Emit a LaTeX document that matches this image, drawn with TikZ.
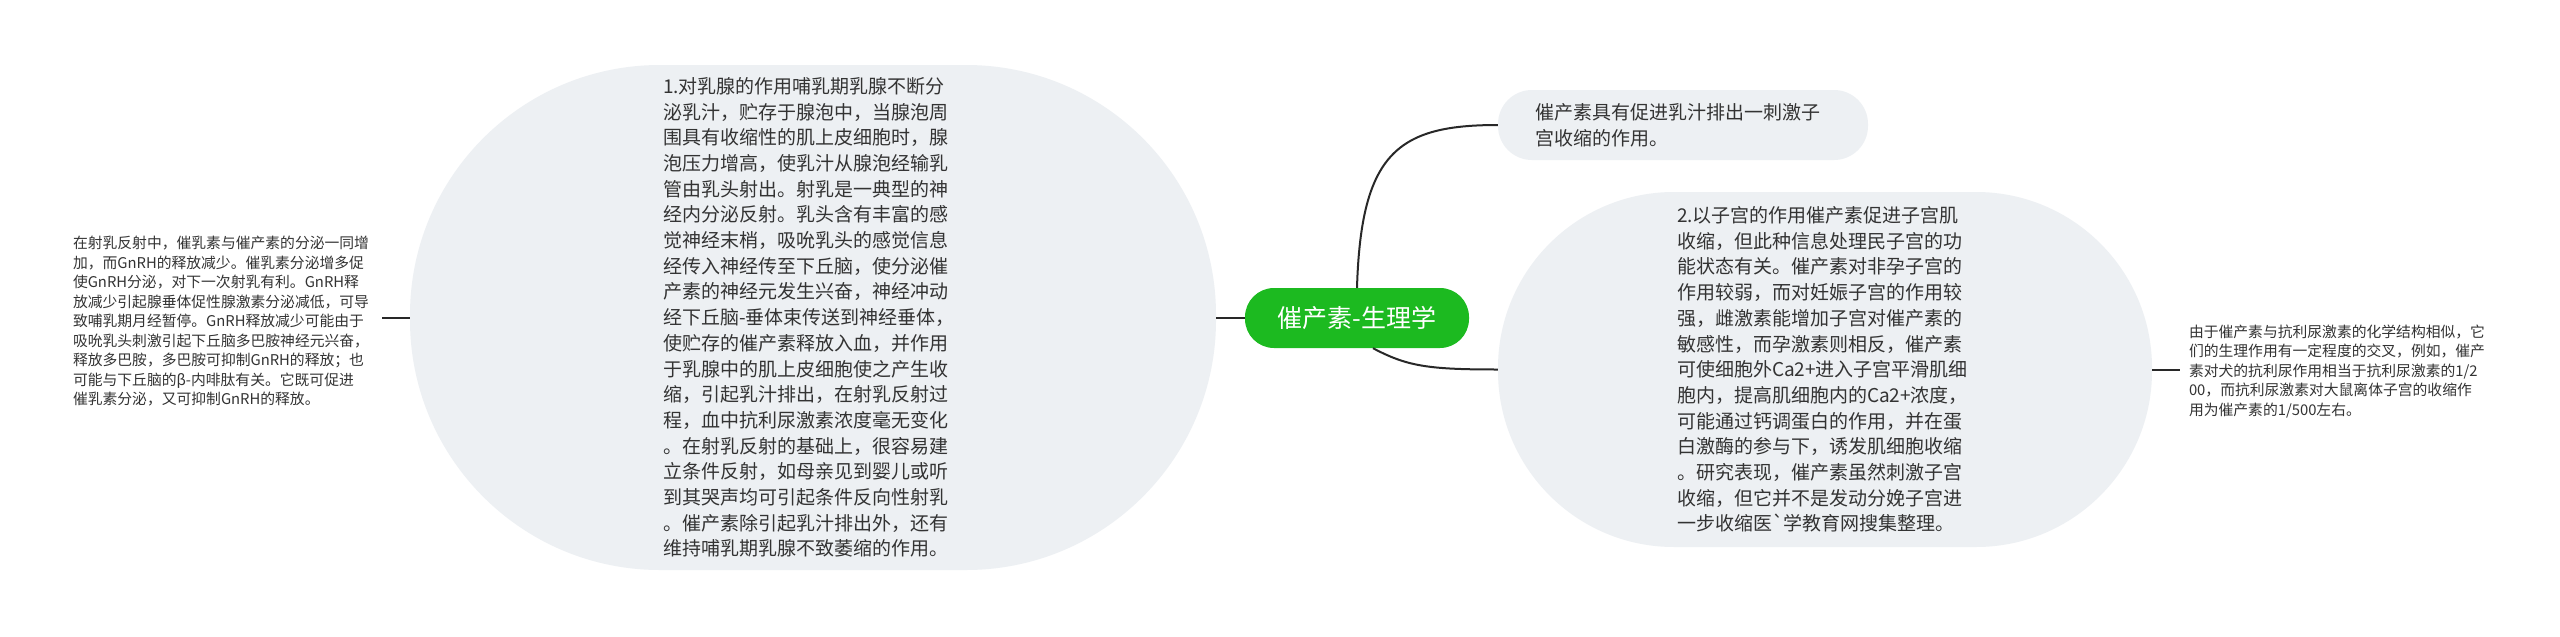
\documentclass[tikz,border=0pt]{standalone}
\usepackage{fontspec}
\setmainfont{Noto Sans CJK SC}[Ligatures=TeXOff]
\definecolor{nodefill}{RGB}{237,240,243}
\definecolor{txt}{RGB}{51,51,51}
\definecolor{rootgreen}{RGB}{28,186,32}
\definecolor{linec}{RGB}{40,40,40}
\begin{document}
\begin{tikzpicture}[x=1pt,y=-1pt,
  bubble/.style={draw=none,fill=nodefill,text=txt,align=left,inner sep=0pt},
  bigtext/.style={font=\fontsize{19pt}{25.7pt}\selectfont},
  smalltext/.style={text=txt,align=left,inner ysep=0pt,inner xsep=9pt,font=\fontsize{14.8pt}{19.5pt}\selectfont},
  conn/.style={draw=linec,line width=2pt}]
\useasboundingbox[fill=white] (0,0) rectangle (2560,637);

\node[fill=rootgreen,text=white,rounded corners=29pt,minimum width=224pt,minimum height=60pt,inner sep=0pt,font=\fontsize{25pt}{30pt}\selectfont] (root) at (1357,318) {催产素-生理学};

\node[bubble,bigtext,rounded corners=250pt,minimum width=806pt,minimum height=505pt,text width=300pt] (n1) at (813,317.5) {1.对乳腺的作用哺乳期乳腺不断分\\%
泌乳汁，贮存于腺泡中，当腺泡周\\%
围具有收缩性的肌上皮细胞时，腺\\%
泡压力增高，使乳汁从腺泡经输乳\\%
管由乳头射出。射乳是一典型的神\\%
经内分泌反射。乳头含有丰富的感\\%
觉神经末梢，吸吮乳头的感觉信息\\%
经传入神经传至下丘脑，使分泌催\\%
产素的神经元发生兴奋，神经冲动\\%
经下丘脑-垂体束传送到神经垂体，\\%
使贮存的催产素释放入血，并作用\\%
于乳腺中的肌上皮细胞使之产生收\\%
缩，引起乳汁排出，在射乳反射过\\%
程，血中抗利尿激素浓度毫无变化\\%
。在射乳反射的基础上，很容易建\\%
立条件反射，如母亲见到婴儿或听\\%
到其哭声均可引起条件反向性射乳\\%
。催产素除引起乳汁排出外，还有\\%
维持哺乳期乳腺不致萎缩的作用。};

\node[bubble,bigtext,rounded corners=34pt,minimum width=370pt,minimum height=70pt,text width=296pt] (n2) at (1683,125) {催产素具有促进乳汁排出一刺激子\\%
宫收缩的作用。};

\node[bubble,bigtext,rounded corners=176pt,minimum width=654pt,minimum height=355pt,text width=296pt] (n3) at (1825,369.5) {2.以子宫的作用催产素促进子宫肌\\%
收缩，但此种信息处理民子宫的功\\%
能状态有关。催产素对非孕子宫的\\%
作用较弱，而对妊娠子宫的作用较\\%
强，雌激素能增加子宫对催产素的\\%
敏感性，而孕激素则相反，催产素\\%
可使细胞外Ca2+进入子宫平滑肌细\\%
胞内，提高肌细胞内的Ca2+浓度，\\%
可能通过钙调蛋白的作用，并在蛋\\%
白激酶的参与下，诱发肌细胞收缩\\%
。研究表现，催产素虽然刺激子宫\\%
收缩，但它并不是发动分娩子宫进\\%
一步收缩医`学教育网搜集整理。};

\node[smalltext,text width=300pt] (t1) at (223,321.5) {在射乳反射中，催乳素与催产素的分泌一同增\\%
加，而GnRH的释放减少。催乳素分泌增多促\\%
使GnRH分泌，对下一次射乳有利。GnRH释\\%
放减少引起腺垂体促性腺激素分泌减低，可导\\%
致哺乳期月经暂停。GnRH释放减少可能由于\\%
吸吮乳头刺激引起下丘脑多巴胺神经元兴奋，\\%
释放多巴胺，多巴胺可抑制GnRH的释放；也\\%
可能与下丘脑的β-内啡肽有关。它既可促进\\%
催乳素分泌，又可抑制GnRH的释放。};

\node[smalltext,text width=300pt] (t3) at (2339,371.5) {由于催产素与抗利尿激素的化学结构相似，它\\%
们的生理作用有一定程度的交叉，例如，催产\\%
素对犬的抗利尿作用相当于抗利尿激素的1/2\\%
00，而抗利尿激素对大鼠离体子宫的收缩作\\%
用为催产素的1/500左右。};

\draw[conn] (root.west) -- (n1.east |- root.west);
\draw[conn] (root.north) .. controls ([xshift=4pt,yshift=135pt]root.north) and ([xshift=-100pt]n2.west) .. (n2.west);
\draw[conn] ([xshift=16pt]root.south) .. controls ([xshift=50pt,yshift=-18pt]root.south) and ([xshift=-70pt]n3.west) .. (n3.west);
\draw[conn] (n3.east) -- (t3.west |- n3.east);
\draw[conn] (n1.west) -- (t1.east |- n1.west);
\end{tikzpicture}
\end{document}
